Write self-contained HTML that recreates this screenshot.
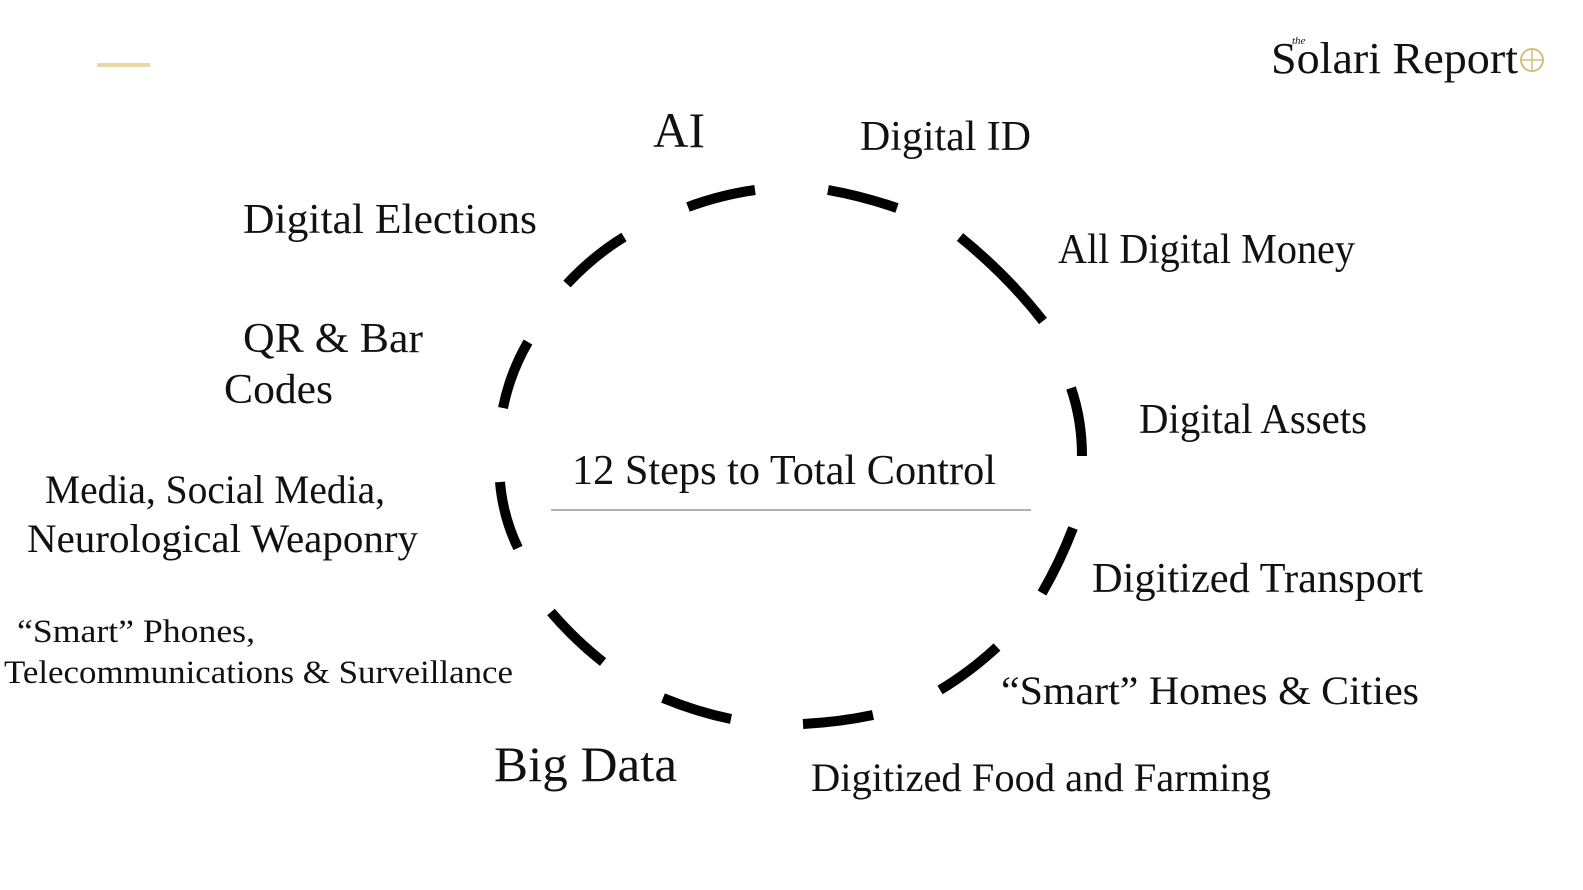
<!DOCTYPE html>
<html><head><meta charset="utf-8"><style>
html,body{margin:0;padding:0;background:#fff;width:1583px;height:890px;overflow:hidden}
text{font-family:"Liberation Serif",serif;fill:#111}
</style></head><body>
<svg width="1583" height="890" viewBox="0 0 1583 890" xmlns="http://www.w3.org/2000/svg">
<rect x="97" y="63" width="53" height="4" fill="#e8d8a6"/>
<text x="1271" y="73" font-size="44" textLength="247" lengthAdjust="spacingAndGlyphs" fill="#333">Solari Report</text>
<text x="1292" y="44" font-size="11" font-style="italic" fill="#555">the</text>
<circle cx="1532" cy="60" r="11" fill="none" stroke="#d4bd7a" stroke-width="2"/>
<path d="M1520 60 H1544 M1532 48 V72" stroke="#d4bd7a" stroke-width="1.5"/>
<g fill="none" stroke="#000" stroke-width="10">
<path d="M688 207 Q720 195 755 190"/>
<path d="M828 190 Q862 196 897 208"/>
<path d="M960 237 Q1008 276 1043 321"/>
<path d="M1071 388 Q1082 420 1082 456"/>
<path d="M1073 528 Q1060 562 1042 593"/>
<path d="M997 647 Q970 672 940 690"/>
<path d="M873 715 Q840 722 803 724"/>
<path d="M731 719 Q697 712 663 698"/>
<path d="M603 662 Q574 639 551 612"/>
<path d="M518 548 Q503 517 500 482"/>
<path d="M503 408 Q510 373 528 342"/>
<path d="M567 284 Q593 256 624 237"/>
</g>
<line x1="551" y1="510" x2="1031" y2="510" stroke="#999" stroke-width="1.5"/>
<g font-size="42">
<text x="653" y="147" font-size="50" textLength="52" lengthAdjust="spacingAndGlyphs">AI</text>
<text x="860" y="150" textLength="171" lengthAdjust="spacingAndGlyphs">Digital ID</text>
<text x="243" y="233" textLength="294" lengthAdjust="spacingAndGlyphs">Digital Elections</text>
<text x="1058" y="263" textLength="297" lengthAdjust="spacingAndGlyphs">All Digital Money</text>
<text x="243" y="352" textLength="180" lengthAdjust="spacingAndGlyphs">QR &amp; Bar</text>
<text x="224" y="403" textLength="109" lengthAdjust="spacingAndGlyphs">Codes</text>
<text x="1139" y="433" textLength="228" lengthAdjust="spacingAndGlyphs">Digital Assets</text>
<text x="572" y="484" textLength="424" lengthAdjust="spacingAndGlyphs">12 Steps to Total Control</text>
<text x="45" y="503" font-size="40" textLength="340" lengthAdjust="spacingAndGlyphs">Media, Social Media,</text>
<text x="27" y="552" font-size="40" textLength="391" lengthAdjust="spacingAndGlyphs">Neurological Weaponry</text>
<text x="1092" y="592" textLength="331" lengthAdjust="spacingAndGlyphs">Digitized Transport</text>
<text x="17" y="642" font-size="33" textLength="238" lengthAdjust="spacingAndGlyphs">“Smart” Phones,</text>
<text x="4" y="683" font-size="33" textLength="509" lengthAdjust="spacingAndGlyphs">Telecommunications &amp; Surveillance</text>
<text x="1001" y="704" font-size="40" textLength="418" lengthAdjust="spacingAndGlyphs">“Smart” Homes &amp; Cities</text>
<text x="494" y="781" font-size="50" textLength="183" lengthAdjust="spacingAndGlyphs">Big Data</text>
<text x="811" y="791" font-size="40" textLength="460" lengthAdjust="spacingAndGlyphs">Digitized Food and Farming</text>
</g>
</svg>
</body></html>
